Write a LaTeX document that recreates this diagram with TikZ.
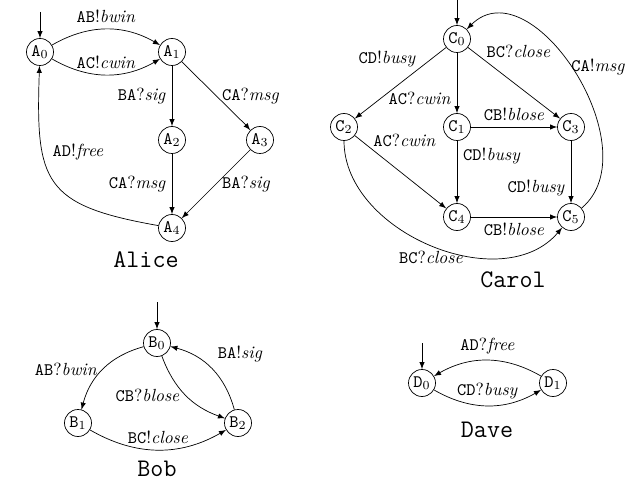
\documentclass[tikz,border=0pt]{standalone}
\usepackage{tikz}
\usetikzlibrary{positioning}
\usetikzlibrary{calc}
\usetikzlibrary{arrows}

\begin{document}
\begin{tikzpicture}
\tikzstyle{state} =[circle,draw=black,minimum size=5.4mm,inner sep=1pt]
\tikzstyle{title} =[font=\Large\ttfamily]
\tikzstyle{lbl} =[inner sep=1pt]
\useasboundingbox (0,0) rectangle (12.62,-9.68);

% Alice
\node[state](A0) at (0.80,-1.04) {$\texttt{A}_0$};
\coordinate (initA) at ($(A0)+(0,0.8)$);
\draw[draw,-latex] (initA)--(A0);
\node[state](A1) at ($(A0)+(2.64,0)$) {$\texttt{A}_1$};
\node[state](A2) at ($(A0)+(2.64,-1.76)$) {$\texttt{A}_2$};
\node[state](A3) at ($(A0)+(4.40,-1.76)$) {$\texttt{A}_3$};
\node[state](A4) at ($(A0)+(2.64,-3.52)$) {$\texttt{A}_4$};
\node[title](alice) at ($(A0)+(2.12,-4.16)$) {Alice};

\draw[draw,-latex] (A0) to[bend left=30] node[above] {\texttt{AB}!\textit{bwin}} (A1);
\draw[draw,-latex] (A0) to[bend right=30] node[above] {\texttt{AC}!\textit{cwin}} (A1);
\draw[draw,-latex] (A1)--(A2) node[midway,left] {\texttt{BA}?\textit{sig}};
\draw[draw,-latex] (A1)--(A3) node[midway,right] {\texttt{CA}?\textit{msg}};
\draw[draw,-latex] (A2)--(A4) node[midway,left] {\texttt{CA}?\textit{msg}};
\draw[draw,-latex] (A3)--(A4) node[midway,right] {\texttt{BA}?\textit{sig}};
\draw[draw,-latex] (A4) to[out=170,in=-92,looseness=1.5] node[pos=0.6,above right] {\texttt{AD}!\textit{free}} (A0);

% Carol
\node[state](C0) at (9.14,-0.78) {$\texttt{C}_0$};
\coordinate (initC) at ($(C0)+(0,0.8)$);
\draw[draw,-latex] (initC)--(C0);
\node[state](C1) at ($(C0)+(0,-1.76)$) {$\texttt{C}_1$};
\node[state](C2) at ($(C0)+(-2.26,-1.76)$) {$\texttt{C}_2$};
\node[state](C3) at ($(C0)+(2.28,-1.76)$) {$\texttt{C}_3$};
\node[state](C4) at ($(C0)+(0,-3.56)$) {$\texttt{C}_4$};
\node[state](C5) at ($(C0)+(2.28,-3.56)$) {$\texttt{C}_5$};
\node[title](carol) at ($(C0)+(1.12,-4.82)$) {Carol};

\draw[draw,-latex] (C0)--(C2) node[lbl,pos=0.31,anchor=south east] {\texttt{CD}!\textit{busy}};
\draw[draw,-latex] (C0)--(C1) node[pos=0.75,left] {\texttt{AC}?\textit{cwin}};
\draw[draw,-latex] (C0)--(C3) node[lbl,pos=0.18,anchor=south west] {\texttt{BC}?\textit{close}};
\draw[draw,-latex] (C1)--(C3) node[midway,above] {\texttt{CB}!\textit{blose}};
\draw[draw,-latex] (C1)--(C4) node[pos=0.25,right] {\texttt{CD}!\textit{busy}};
\draw[draw,-latex] (C2)--(C4) node[lbl,pos=0.18,anchor=south west] {\texttt{AC}?\textit{cwin}};
\draw[draw,-latex] (C3)--(C5) node[pos=0.75,left] {\texttt{CD}!\textit{busy}};
\draw[draw,-latex] (C4)--(C5) node[midway,below] {\texttt{CB}!\textit{blose}};
\draw[draw,-latex] (C2) to[out=-90,in=-130] node[midway,below] {\texttt{BC}?\textit{close}} (C5);
\draw[draw,-latex] (C5) to[out=40,in=45,looseness=1.1] node[pos=0.52,anchor=west,inner sep=0pt] {\texttt{CA}!\textit{msg}} (C0);

% Bob
\node[state](B0) at (3.14,-6.86) {$\texttt{B}_0$};
\coordinate (initB) at ($(B0)+(0,0.82)$);
\draw[draw,-latex] (initB)--(B0);
\node[state](B1) at ($(B0)+(-1.58,-1.60)$) {$\texttt{B}_1$};
\node[state](B2) at ($(B0)+(1.62,-1.60)$) {$\texttt{B}_2$};
\node[title](bob) at ($(B0)+(0,-2.52)$) {Bob};

\draw[draw,-latex] (B0) to[bend right=30] node[midway,left] {\texttt{AB}?\textit{bwin}} (B1);
\draw[draw,-latex] (B0) to[bend right=25] node[midway,left] {\texttt{CB}?\textit{blose}} (B2);
\draw[draw,-latex] (B2) to[bend right=30] node[midway,above right] {\texttt{BA}!\textit{sig}} (B0);
\draw[draw,-latex] (B1) to[bend right=30] node[midway,above] {\texttt{BC}!\textit{close}} (B2);

% Dave
\node[state](D0) at (8.44,-7.66) {$\texttt{D}_0$};
\coordinate (initD) at ($(D0)+(0,0.8)$);
\draw[draw,-latex] (initD)--(D0);
\node[state](D1) at ($(D0)+(2.62,0)$) {$\texttt{D}_1$};
\node[title](dave) at ($(D0)+(1.30,-0.94)$) {Dave};

\draw[draw,-latex] (D1) to[bend right=30] node[midway,above] {\texttt{AD}?\textit{free}} (D0);
\draw[draw,-latex] (D0) to[bend right=30] node[midway,above] {\texttt{CD}?\textit{busy}} (D1);
\end{tikzpicture}
\end{document}
